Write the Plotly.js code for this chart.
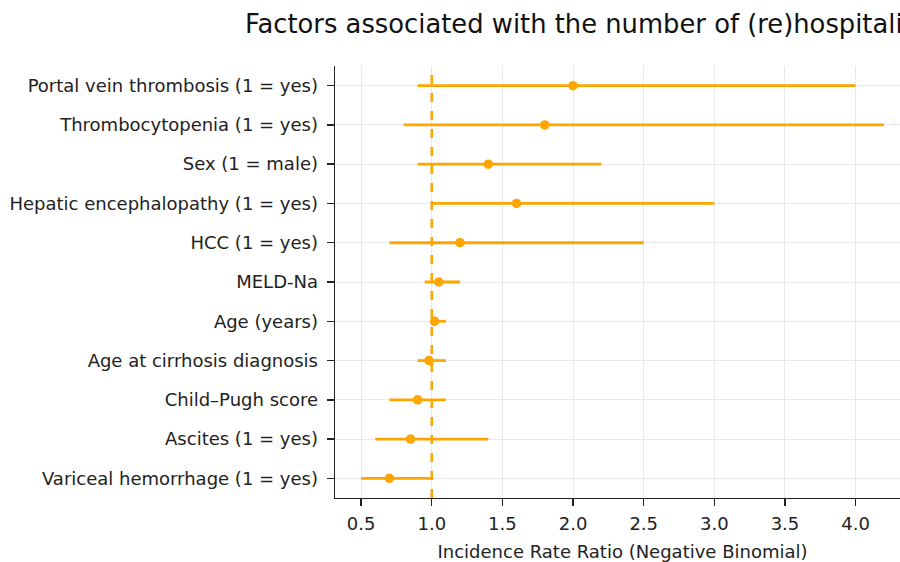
<!DOCTYPE html>
<html>
<head>
<meta charset="utf-8">
<script src="https://cdn.plot.ly/plotly-3.0.1.min.js"></script>
<style>
html, body { margin: 0; padding: 0; overflow: hidden; background: #fff; }
#chart { width: 920px; height: 562px; }
</style>
</head>
<body>
<div id="chart"></div>
<script>
// Factors, top to bottom
const factors = [
  "Portal vein thrombosis (1 = yes)",
  "Thrombocytopenia (1 = yes)",
  "Sex (1 = male)",
  "Hepatic encephalopathy (1 = yes)",
  "HCC (1 = yes)",
  "MELD-Na",
  "Age (years)",
  "Age at cirrhosis diagnosis",
  "Child\u2013Pugh score",
  "Ascites (1 = yes)",
  "Variceal hemorrhage (1 = yes)"
];
const irr     = [2.0, 1.8, 1.4, 1.6, 1.2, 1.05, 1.02, 0.98, 0.9, 0.85, 0.7];
const ciLower = [0.9, 0.8, 0.9, 1.0, 0.7, 0.95, 0.99, 0.9, 0.7, 0.6, 0.5];
const ciUpper = [4.0, 4.2, 2.2, 3.0, 2.5, 1.2, 1.1, 1.1, 1.1, 1.4, 1.0];
const xTicks  = [0.5, 1.0, 1.5, 2.0, 2.5, 3.0, 3.5, 4.0];
const refValue = 1.0;

const orange = "#FFA500";
const font = "DejaVu Sans, sans-serif";

const trace = {
  type: "scatter",
  mode: "markers",
  x: irr,
  y: factors,
  marker: { color: orange, size: 9.5 },
  error_x: {
    type: "data",
    symmetric: false,
    array: irr.map((v, i) => ciUpper[i] - v),
    arrayminus: irr.map((v, i) => v - ciLower[i]),
    color: orange,
    thickness: 2.8,
    width: 0
  },
  hoverinfo: "x+y",
  showlegend: false
};

const layout = {
  width: 920,
  height: 562,
  paper_bgcolor: "#fff",
  plot_bgcolor: "#fff",
  margin: { l: 335, r: 10, t: 66, b: 64, pad: 0 },
  title: {
    text: "Factors associated with the number of (re)hospitalizations",
    font: { family: font, size: 25.8, color: "#111" },
    x: 245 / 920, xanchor: "left", xref: "container",
    y: 1 - 24 / 562, yanchor: "middle", yref: "container"
  },
  xaxis: {
    range: [0.315, 4.385],
    tickvals: xTicks,
    ticktext: xTicks.map(v => v.toFixed(1)),
    showgrid: true,
    gridcolor: "#e8e8ee",
    gridwidth: 1,
    zeroline: false,
    showline: true,
    linecolor: "#222",
    linewidth: 1.4,
    ticks: "outside",
    ticklen: 7,
    tickwidth: 1.4,
    tickcolor: "#222",
    ticklabelstandoff: 2,
    tickfont: { family: font, size: 18, color: "#222" },
    title: { text: "Incidence Rate Ratio (Negative Binomial)", font: { family: font, size: 18, color: "#222" }, standoff: 13 }
  },
  yaxis: {
    type: "category",
    categoryorder: "array",
    categoryarray: factors,
    range: [10.5, -0.5],
    showgrid: true,
    gridcolor: "#e8e8ee",
    gridwidth: 1,
    zeroline: false,
    showline: true,
    linecolor: "#222",
    linewidth: 1.4,
    ticks: "outside",
    ticklen: 7,
    tickwidth: 1.4,
    tickcolor: "#222",
    ticklabelstandoff: 5,
    tickfont: { family: font, size: 18, color: "#222" },
    automargin: false
  },
  shapes: [{
    type: "line",
    xref: "x", yref: "paper",
    x0: refValue, x1: refValue, y0: 0, y1: 1,
    line: { color: orange, width: 2.6, dash: "dash" },
    layer: "above"
  }]
};

Plotly.newPlot("chart", [trace], layout, { displayModeBar: false, staticPlot: true });
</script>
</body>
</html>
